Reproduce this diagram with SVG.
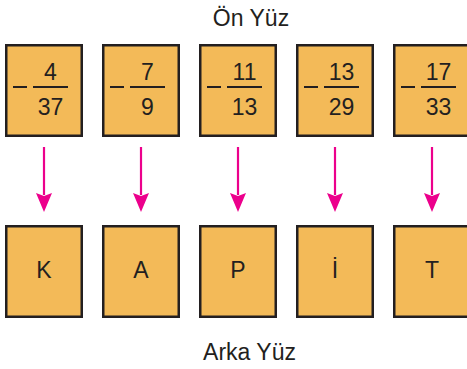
<svg xmlns="http://www.w3.org/2000/svg" width="467" height="369" viewBox="0 0 467 369">
<defs>
<style>
.box{fill:#F3BA58;stroke:#231F20;stroke-width:2.5}
.t{font-family:"Liberation Sans",Arial,sans-serif;fill:#231F20;text-anchor:middle}
.num{font-size:23px}
.lbl{font-size:23px}
.title{font-size:23px}
.bar{stroke:#231F20;stroke-width:1.8}
.minus{stroke:#231F20;stroke-width:2}
.arr{stroke:#EC008C;stroke-width:2.2;fill:none;marker-end:url(#ah)}
</style>
<marker id="ah" viewBox="0 0 19 16" markerWidth="19" markerHeight="16" refX="2" refY="8" orient="auto" markerUnits="userSpaceOnUse">
<path d="M0,0 L19,8 L0,16 L3,8 z" fill="#EC008C"/>
</marker>
</defs>
<rect width="467" height="369" fill="#FFFFFF"/>
<text class="t title" x="251" y="26">Ön Yüz</text>
<text class="t title" x="249.5" y="360">Arka Yüz</text>

<g id="front1">
<rect class="box" x="6.25" y="45.25" width="75.5" height="90.5"/>
<line class="minus" x1="13" y1="87" x2="27" y2="87"/>
<line class="bar" x1="33" y1="87" x2="68" y2="87"/>
<text class="t num" x="50.5" y="80">4</text>
<text class="t num" x="50.5" y="115">37</text>
</g>
<g id="front2">
<rect class="box" x="103.25" y="45.25" width="75.5" height="90.5"/>
<line class="minus" x1="110" y1="87" x2="124" y2="87"/>
<line class="bar" x1="130" y1="87" x2="165" y2="87"/>
<text class="t num" x="147.5" y="80">7</text>
<text class="t num" x="147.5" y="115">9</text>
</g>
<g id="front3">
<rect class="box" x="200.25" y="45.25" width="75.5" height="90.5"/>
<line class="minus" x1="207" y1="87" x2="221" y2="87"/>
<line class="bar" x1="227" y1="87" x2="262" y2="87"/>
<text class="t num" x="244.5" y="80">11</text>
<text class="t num" x="244.5" y="115">13</text>
</g>
<g id="front4">
<rect class="box" x="297.25" y="45.25" width="75.5" height="90.5"/>
<line class="minus" x1="304" y1="87" x2="318" y2="87"/>
<line class="bar" x1="324" y1="87" x2="359" y2="87"/>
<text class="t num" x="341.5" y="80">13</text>
<text class="t num" x="341.5" y="115">29</text>
</g>
<g id="front5">
<rect class="box" x="394.25" y="45.25" width="75.5" height="90.5"/>
<line class="minus" x1="401" y1="87" x2="415" y2="87"/>
<line class="bar" x1="421" y1="87" x2="456" y2="87"/>
<text class="t num" x="438.5" y="80">17</text>
<text class="t num" x="438.5" y="115">33</text>
</g>

<g id="back1">
<rect class="box" x="6.25" y="226.25" width="75.5" height="90.5"/>
<text class="t lbl" x="44" y="278">K</text>
</g>
<g id="back2">
<rect class="box" x="103.25" y="226.25" width="75.5" height="90.5"/>
<text class="t lbl" x="141" y="278">A</text>
</g>
<g id="back3">
<rect class="box" x="200.25" y="226.25" width="75.5" height="90.5"/>
<text class="t lbl" x="238" y="278">P</text>
</g>
<g id="back4">
<rect class="box" x="297.25" y="226.25" width="75.5" height="90.5"/>
<text class="t lbl" x="335" y="278">İ</text>
</g>
<g id="back5">
<rect class="box" x="394.25" y="226.25" width="75.5" height="90.5"/>
<text class="t lbl" x="432" y="278">T</text>
</g>

<g id="connectors">
<line class="arr" x1="44" y1="147" x2="44" y2="195"/>
<line class="arr" x1="141" y1="147" x2="141" y2="195"/>
<line class="arr" x1="238" y1="147" x2="238" y2="195"/>
<line class="arr" x1="335" y1="147" x2="335" y2="195"/>
<line class="arr" x1="432" y1="147" x2="432" y2="195"/>
</g>
</svg>
